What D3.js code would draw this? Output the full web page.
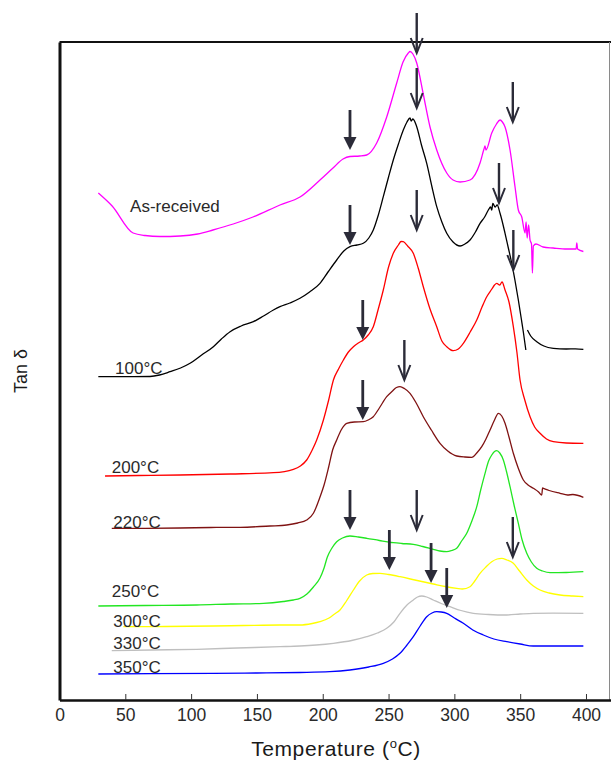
<!DOCTYPE html>
<html>
<head>
<meta charset="utf-8">
<script src="https://cdn.jsdelivr.net/npm/d3@7"></script>
<style>
  html, body { margin: 0; padding: 0; background: #fff; }
  svg { display: block; font-family: "Liberation Sans", Arial, sans-serif; }
</style>
</head>
<body>
<svg id="chart" width="611" height="760"></svg>
<script>
// Tan delta vs temperature (DMA) for the as-received sample and samples heat-treated at each temperature.
// Curves are stacked with vertical offsets; values are in arbitrary units.

const xTicks = [0, 50, 100, 150, 200, 250, 300, 350, 400];

const seriesNames = ["As-received", "100°C", "200°C", "220°C", "250°C", "300°C", "330°C", "350°C"];
const seriesColors = ["#ff00ff", "#000000", "#ff0000", "#7f1212", "#22e622", "#ffff00", "#bfbfbf", "#0000ff"];

// [temperature °C, tan δ (offset, arb. units)]
const asReceived = [
  [29.5, 50.7], [40, 49.4], [55.9, 46.7], [65, 46.45], [76.4, 46.35], [91.6, 46.4], [105, 46.6],
  [116.6, 47.0], [132, 47.6], [147.0, 48.3], [167.5, 49.5], [182.7, 50.3], [197.9, 52.0],
  [207.8, 53.2], [215.4, 54.1], [220.7, 54.35], [228, 54.4], [233.4, 54.5], [241.0, 55.7],
  [248.6, 58.3], [256.2, 61.7], [261.0, 63.8], [265.0, 64.7], [266.3, 64.85], [268.5, 64.6],
  [271.4, 63.7], [276.2, 60.7], [281.5, 57.3], [286.6, 55.0], [294.2, 52.7], [299, 52.0],
  [304.3, 51.8], [311.9, 52.0], [319.5, 53.7], [322.5, 55.1], [323.3, 55.4], [324, 55.0],
  [328.4, 56.7], [332, 57.6], [334.7, 58.0], [336.5, 57.8], [338.5, 57.3], [342.3, 55.0],
  [346.1, 51.3], [348.6, 49.0], [351.2, 48.3], [353.7, 46.7], [354.5, 47.8], [355.3, 46.2],
  [356.4, 47.5], [357.5, 46.0], [358.6, 45.6], [359.3, 42.7], [360.0, 45.4], [362, 45.6],
  [367.4, 45.3], [375, 45.2], [385.4, 45.1], [392.5, 45.1], [393.0, 45.7], [393.6, 45.1],
  [398.0, 44.85]
];

const c100 = [
  [29.5, 32.33], [50, 32.33], [68.8, 32.35], [76, 32.5], [84.0, 32.83], [92, 33.2], [99.2, 33.67],
  [108, 34.5], [116.9, 35.33], [123, 36.1], [129.6, 36.83], [138, 37.4], [147.3, 37.83],
  [155, 38.4], [162.5, 39.0], [167.5, 39.33], [175, 39.7], [182.7, 40.17], [190, 40.8],
  [197.9, 41.67], [204, 42.8], [210.6, 44.0], [216, 44.9], [220.7, 45.33], [226, 45.5],
  [230.8, 45.67], [235, 46.2], [238.4, 47.0], [242, 48.4], [246.0, 50.33], [250, 52.3],
  [253.6, 54.0], [257.5, 55.6], [261.2, 57.0], [264, 57.8], [266.3, 58.2], [267.2, 57.9],
  [268.5, 58.1], [271.4, 57.33], [275, 55.5], [279.0, 53.67], [283, 51.3], [286.6, 49.33],
  [290.5, 47.8], [294.2, 46.67], [299, 45.8], [304.3, 45.4], [308, 45.6], [311.9, 46.0],
  [316, 46.8], [319.5, 47.67], [323, 48.3], [325.8, 49.0], [327.5, 49.3], [328.4, 49.0],
  [329.2, 49.67], [331, 49.3], [332.5, 49.5], [334.7, 48.67], [338.5, 46.67], [341, 45.2],
  [343.6, 43.67], [346, 42.0], [348.6, 40.0], [351, 38.0], [352.4, 36.8], [354.3, 35.0],
  [354.4, null],
  [355.5, 37.0], [358, 36.4], [362.6, 35.83], [368, 35.4], [375.2, 35.17], [385, 35.1],
  [392, 35.12], [398.0, 35.07]
];

const c200 = [
  [34.6, 22.4], [60, 22.45], [91.6, 22.5], [130, 22.6], [162.5, 22.73], [177.7, 23.07],
  [183, 23.4], [187.8, 24.0], [192, 25.0], [195.4, 26.0], [200.5, 28.0], [204.5, 30.0],
  [208.1, 32.0], [212, 33.1], [215.7, 34.0], [219.5, 34.8], [223.3, 35.33], [227, 35.7],
  [230.8, 36.0], [234.5, 36.5], [238.4, 37.33], [242, 39.0], [246.0, 41.0], [250, 43.3],
  [253.6, 44.67], [257.5, 45.5], [259.5, 45.85], [261.2, 45.83], [264.5, 45.4], [268.8, 44.67],
  [272.5, 43.2], [276.4, 41.33], [281.5, 39.1], [286.6, 37.33], [290.5, 35.9], [294.2, 35.33],
  [299.2, 34.93], [303, 35.1], [306.8, 35.67], [312, 36.8], [317.0, 38.0], [321, 39.3],
  [324.6, 40.33], [328.5, 41.1], [330.5, 41.5], [332.2, 41.67], [334.5, 41.5], [336.2, 41.8],
  [338.5, 41.0], [341.5, 39.8], [344.8, 37.33], [347.5, 34.8], [349.9, 32.0], [353.5, 30.0],
  [357.5, 28.33], [361, 27.3], [365.1, 26.67], [370, 26.1], [375.2, 25.83], [385, 25.7],
  [398.0, 25.67]
];

const c220 = [
  [39.7, 17.17], [65, 17.17], [91.6, 17.2], [115, 17.25], [137.2, 17.27], [160, 17.4],
  [172.6, 17.5], [181, 17.7], [187.8, 18.0], [192.9, 18.67], [197.9, 20.3], [201, 21.5],
  [204.5, 23.3], [207.5, 25.0], [210.6, 26.0], [214, 27.0], [218.2, 27.67], [224, 27.8],
  [230.8, 27.83], [234.5, 28.0], [238.4, 28.33], [243, 29.2], [248.6, 30.33], [253, 30.9],
  [256, 31.25], [258.7, 31.33], [262, 31.15], [266.3, 30.67], [271, 29.7], [276.4, 28.33],
  [282.5, 27.0], [289.1, 25.67], [295, 24.9], [301.8, 24.4], [308, 24.3], [313.2, 24.27],
  [317, 24.7], [320.8, 25.33], [324, 26.1], [327.1, 27.0], [330.5, 28.0], [333.4, 28.67],
  [336, 28.4], [338.5, 27.67], [341.5, 26.3], [344.8, 24.67], [348.5, 23.2], [352.4, 22.0],
  [356, 21.5], [360.0, 21.17], [364, 20.8], [366.4, 20.5], [367.0, 21.2], [367.6, 21.17],
  [372, 20.95], [380.3, 20.67], [386, 20.5], [390, 20.55], [398.0, 20.27]
];

const c250 = [
  [29.5, 9.4], [65, 9.45], [104.3, 9.5], [130, 9.6], [154.9, 9.67], [170, 9.85], [177.7, 10.0],
  [182.7, 10.17], [188, 10.6], [192.9, 11.3], [197.9, 12.2], [201, 13.2], [203.5, 14.3],
  [207, 15.2], [210.6, 15.83], [215, 16.2], [220.7, 16.4], [227, 16.3], [233.4, 16.17],
  [243, 15.95], [253.6, 15.73], [260, 15.65], [268.8, 15.57], [276, 15.35], [284.0, 15.07],
  [289, 14.9], [294.2, 14.83], [298, 14.95], [301.8, 15.17], [305.5, 15.9], [309.4, 16.67],
  [313, 17.8], [317.0, 19.33], [320, 21.0], [323.3, 22.67], [326, 23.9], [328.4, 24.5],
  [330.5, 24.85], [332.2, 24.93], [334.5, 24.7], [337.2, 24.0], [339.5, 22.9], [342.3, 21.33],
  [345.5, 19.4], [348.6, 17.67], [351.5, 16.0], [355.0, 14.67], [358.5, 13.8], [362.6, 13.17],
  [367, 12.9], [372.7, 12.73], [385, 12.75], [398.0, 12.83]
];

const c300 = [
  [48.5, 7.33], [80, 7.35], [116.9, 7.4], [140, 7.45], [167.5, 7.5], [182.7, 7.5],
  [192, 7.65], [197.9, 7.83], [204.8, 8.2], [209, 8.6], [213.1, 9.0], [218, 9.9],
  [223.3, 11.0], [228, 11.9], [233.4, 12.5], [238, 12.65], [243.5, 12.67], [250, 12.55],
  [258.7, 12.33], [270, 12.0], [284.0, 11.6], [293, 11.35], [301.8, 11.17], [306, 11.1],
  [311.9, 11.33], [315.5, 11.9], [319.5, 12.67], [324, 13.3], [328.4, 13.83], [332.5, 14.1],
  [336.0, 14.17], [340, 14.0], [344.8, 13.67], [349.5, 12.9], [355.0, 12.0], [360, 11.4],
  [365.1, 11.0], [372, 10.7], [380.3, 10.5], [390, 10.4], [398.0, 10.33]
];

const c330 = [
  [39.7, 4.93], [70, 5.0], [104.3, 5.07], [135, 5.2], [167.5, 5.33], [182.7, 5.4],
  [195, 5.5], [208.1, 5.67], [222, 5.95], [233.4, 6.33], [241.5, 6.7], [248.6, 7.17],
  [254, 7.8], [258.7, 8.67], [264, 9.5], [268.8, 10.0], [272, 10.3], [275.2, 10.4],
  [279, 10.3], [284.0, 10.0], [290, 9.65], [296.7, 9.33], [305, 8.95], [314.4, 8.67],
  [326, 8.55], [339.8, 8.5], [350, 8.6], [360.0, 8.67], [375, 8.68], [398.0, 8.67]
];

const c350 = [
  [29.5, 2.6], [70, 2.63], [116.9, 2.67], [150, 2.7], [182.7, 2.75], [205.3, 2.83],
  [220.7, 3.0], [235, 3.3], [246.0, 3.67], [253, 4.1], [258.7, 4.67], [264, 5.5],
  [268.8, 6.33], [274, 7.4], [279.0, 8.33], [283, 8.7], [286.6, 8.83], [290, 8.8],
  [294.2, 8.67], [300, 8.2], [306.8, 7.67], [314, 7.0], [322.0, 6.5], [330, 6.1],
  [339.8, 5.83], [350, 5.6], [360.0, 5.4], [375, 5.4], [398.0, 5.4]
];

const seriesData = [asReceived, c100, c200, c220, c250, c300, c330, c350];

// Label anchor for each curve name: [temperature, tan δ]
const labelAnchors = [
  [53.6, 48.8], [42.2, 32.6], [39.7, 22.7], [40.9, 17.2],
  [39.7, 10.3], [40.9, 7.3], [40.9, 5.1], [40.9, 2.7]
];

// Transition markers: [temperature, tan δ at arrow tip, head type]
const arrowTemps  = [271.4, 271.4, 220.7, 344.4, 220.7, 271.4, 333.9, 344.8, 230.4,
                     262.0, 230.4, 220.7, 271.4, 250.6, 344.4, 282.3, 294.2];
const arrowTips   = [64.7, 59.2, 55.0, 57.8, 45.5, 47.0, 49.7, 43.0, 36.0,
                     32.0, 28.0, 17.0, 17.0, 13.0, 14.3, 11.7, 9.2];
const arrowFilled = [false, false, true, false, true, false, false, false, true,
                     false, true, true, false, true, false, true, true];

const svg = d3.select("#chart");
const W = 611;

const x = d3.scaleLinear().domain([0, 419]).range([59.5, 611]);
const y = d3.scaleLinear().domain([0, 65.8]).range([700, 42]);

// Curves
const line = d3.line()
  .defined(d => d[1] !== null)
  .x(d => x(d[0]))
  .y(d => y(d[1]))
  .curve(d3.curveMonotoneX);

svg.append("g")
  .selectAll("path")
  .data(seriesData)
  .join("path")
  .attr("d", line)
  .attr("fill", "none")
  .attr("stroke", (d, i) => seriesColors[i])
  .attr("stroke-width", 1.3)
  .attr("stroke-linejoin", "round");

// Curve names
svg.append("g")
  .selectAll("text")
  .data(seriesNames)
  .join("text")
  .attr("x", (d, i) => x(labelAnchors[i][0]))
  .attr("y", (d, i) => y(labelAnchors[i][1]))
  .attr("font-size", 17)
  .attr("fill", "#2a2a2a")
  .text(d => d);

// Frame: top and right edges
svg.append("line")
  .attr("x1", x(0)).attr("x2", W)
  .attr("y1", y(65.8)).attr("y2", y(65.8))
  .attr("stroke", "#111").attr("stroke-width", 2);
svg.append("line")
  .attr("x1", 609.5).attr("x2", 609.5)
  .attr("y1", y(65.8)).attr("y2", y(0))
  .attr("stroke", "#8a8a8a").attr("stroke-width", 1);

// Bottom axis with inward ticks
const xAxis = svg.append("g")
  .attr("transform", `translate(0,${y(0)})`)
  .call(d3.axisBottom(x).tickValues(xTicks).tickSizeInner(-6).tickSizeOuter(0).tickPadding(9));
xAxis.select(".domain").attr("stroke", "#111").attr("stroke-width", 2.6);
xAxis.selectAll(".tick line").attr("stroke", "#333").attr("stroke-width", 1);
xAxis.selectAll(".tick text")
  .attr("font-size", 17.5)
  .attr("font-family", "Liberation Sans, Arial, sans-serif")
  .attr("fill", "#2a2a2a");

// Left axis line
const yAxis = svg.append("g")
  .attr("transform", `translate(${x(0)},0)`)
  .call(d3.axisLeft(y).tickValues([]).tickSizeOuter(0));
yAxis.select(".domain").attr("stroke", "#111").attr("stroke-width", 3);

// Arrows
const arrowColor = "#2b2b38";
const arrows = svg.append("g");
arrowTemps.forEach((t, i) => {
  const ax = x(t);
  const tip = y(arrowTips[i]);
  if (arrowFilled[i]) {
    arrows.append("line")
      .attr("x1", ax).attr("x2", ax)
      .attr("y1", tip - 40).attr("y2", tip - 10)
      .attr("stroke", arrowColor).attr("stroke-width", 2.8);
    arrows.append("path")
      .attr("d", `M${ax - 6.5},${tip - 13}L${ax + 6.5},${tip - 13}L${ax},${tip}Z`)
      .attr("fill", arrowColor);
  } else {
    arrows.append("line")
      .attr("x1", ax).attr("x2", ax)
      .attr("y1", tip - 40).attr("y2", tip - 1)
      .attr("stroke", arrowColor).attr("stroke-width", 2.4);
    arrows.append("path")
      .attr("d", `M${ax - 6},${tip - 15}L${ax},${tip}L${ax + 6},${tip - 15}`)
      .attr("fill", "none")
      .attr("stroke", arrowColor).attr("stroke-width", 2);
  }
});

// Axis titles
const xTitle = svg.append("text")
  .attr("x", 336).attr("y", 756)
  .attr("text-anchor", "middle")
  .attr("font-size", 21)
  .attr("letter-spacing", 0.6)
  .attr("fill", "#1a1a1a");
xTitle.append("tspan").text("Temperature (");
xTitle.append("tspan").attr("dy", -8).attr("font-size", 13).text("o");
xTitle.append("tspan").attr("dy", 8).text("C)");

svg.append("text")
  .attr("transform", `translate(27,371) rotate(-90)`)
  .attr("text-anchor", "middle")
  .attr("font-size", 18)
  .attr("fill", "#1a1a1a")
  .text("Tan δ");
</script>
</body>
</html>
